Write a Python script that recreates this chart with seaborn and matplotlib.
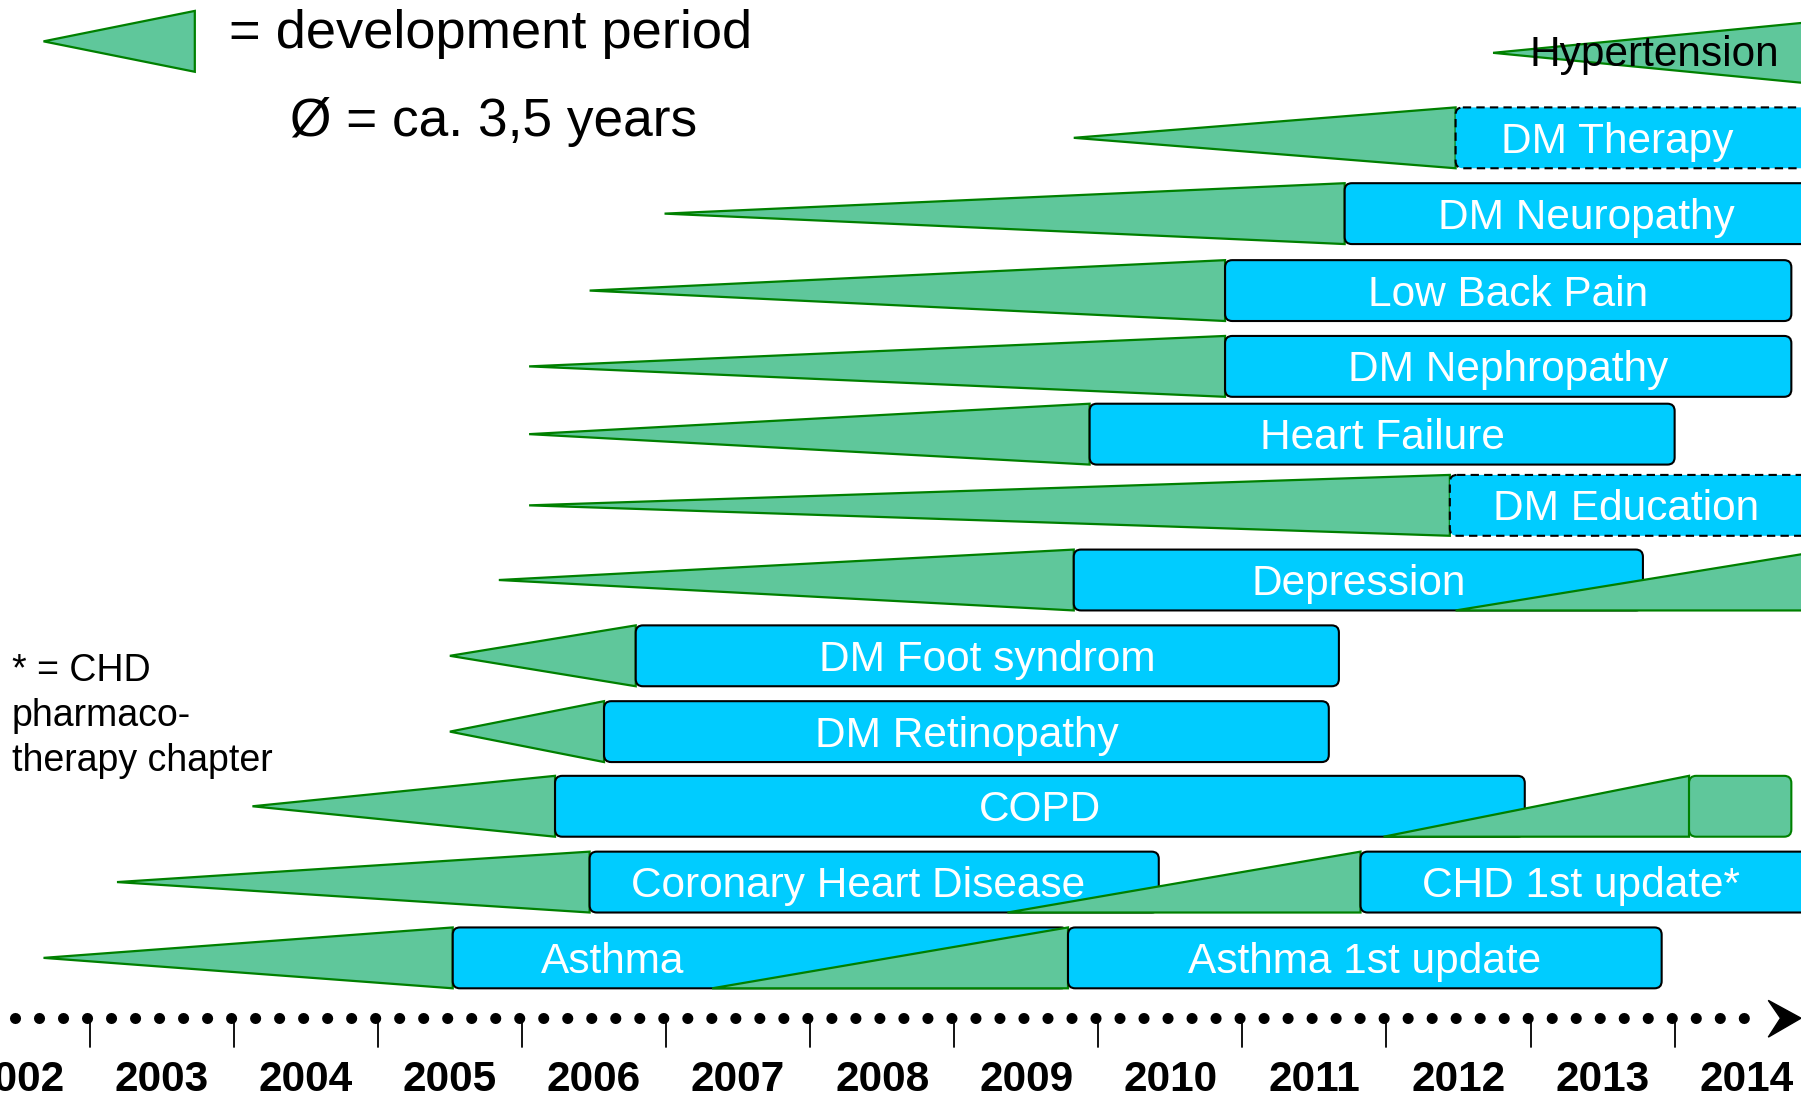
import matplotlib
matplotlib.use('Agg')
import matplotlib.pyplot as plt
from matplotlib.patches import Polygon, FancyBboxPatch
import seaborn as sns

topics = ['Hypertension', 'DM Therapy', 'DM Neuropathy', 'Low Back Pain',
          'DM Nephropathy', 'Heart Failure', 'DM Education', 'Depression',
          'DM Foot syndrom', 'DM Retinopathy', 'COPD',
          'Coronary Heart Disease', 'Asthma']
dev_start = [2012.74, 2009.83, 2006.99, 2006.47, 2006.05, 2006.05, 2006.05,
             2005.84, 2005.50, 2005.50, 2004.13, 2003.19, 2002.68]
published = [2014.92, 2012.48, 2011.71, 2010.88, 2010.88, 2009.94, 2012.44,
             2009.83, 2006.79, 2006.57, 2006.23, 2006.47, 2005.52]
valid_until = [None, 2015.0, 2015.0, 2014.81, 2014.81, 2014.00, 2015.0,
               2013.78, 2011.67, 2011.60, 2012.96, 2010.42, 2009.79]
in_progress = ['DM Therapy', 'DM Education']

# updates of existing guidelines
upd_topic = ['Depression', 'COPD', 'Coronary Heart Disease', 'Asthma']
upd_label = ['', '', 'CHD 1st update*', 'Asthma 1st update']
upd_dev_start = [2012.48, 2011.98, 2009.37, 2007.32]
upd_published = [2015.08, 2014.10, 2011.82, 2009.79]
upd_until = [None, 2014.81, 2015.0, 2013.91]
upd_drafting = ['COPD']   # green box = update still being worked on

years = list(range(2002, 2015))

# ---- layout (vertical units, top = 0) ----
row_y = dict(zip(topics, [46, 120, 186, 253, 319, 378, 440, 505, 571, 637, 702, 768, 834]))
HALF = 26.5
label_x = {'Hypertension': 2013.86, 'DM Therapy': 2013.60, 'DM Neuropathy': 2013.39,
           'DM Education': 2013.66, 'Coronary Heart Disease': 2008.33,
           'Asthma': 2006.63, 'CHD 1st update*': 2013.35}
AXIS_Y = 886.5
ASPECT = 125.3   # y units per year, keeps the box corners round

GREEN = '#5FC79B'
DARKGREEN = '#008000'
CYAN = '#00CCFF'

sns.set_theme(style='white')
plt.rcParams['font.family'] = ['Liberation Sans', 'DejaVu Sans']
plt.rcParams['text.color'] = 'black'

fig = plt.figure(figsize=(18.01, 10.98), dpi=100)
ax = fig.add_axes([0, 0, 1, 1])
ax.set_xlim(2002.378, 2014.877)
ax.set_ylim(956, 0)
ax.axis('off')


def dev_wedge(x0, x1, yc, z):
    ax.add_patch(Polygon([(x0, yc), (x1, yc - HALF), (x1, yc + HALF)], closed=True,
                         facecolor=GREEN, edgecolor=DARKGREEN, lw=1.6, zorder=z))


def update_wedge(x0, x1, yc, z):
    ax.add_patch(Polygon([(x0, yc + HALF), (x1, yc - HALF), (x1, yc + HALF)], closed=True,
                         facecolor=GREEN, edgecolor=DARKGREEN, lw=1.6, zorder=z))


def box(x0, x1, yc, z, dashed=False, fc=CYAN, ec='black'):
    ax.add_patch(FancyBboxPatch((x0, yc - HALF), x1 - x0, 2 * HALF,
                                boxstyle='round,pad=0,rounding_size=0.05',
                                mutation_aspect=ASPECT, facecolor=fc, edgecolor=ec,
                                lw=1.5, ls=(0, (4, 2.5)) if dashed else '-', zorder=z))


def label(text, x, yc, z, color='white'):
    ax.text(x, yc + 13, text, ha='center', va='baseline', fontsize=30.5,
            color=color, zorder=z)


z = 2
for name, x0, x1, x2 in zip(topics, dev_start, published, valid_until):
    yc = row_y[name]
    dev_wedge(x0, x1, yc, z)
    if x2 is None:
        label(name, label_x.get(name, x1), yc - 1.5, z + 1, color='black')
    else:
        box(x1, x2, yc, z + 1, dashed=name in in_progress)
        label(name, label_x.get(name, (x1 + x2) / 2), yc, z + 2)
    z += 3

for name, text, x0, x1, x2 in zip(upd_topic, upd_label, upd_dev_start, upd_published, upd_until):
    yc = row_y[name]
    update_wedge(x0, x1, yc, z)
    if x2 is not None:
        if name in upd_drafting:
            box(x1, x2, yc, z + 1, fc=GREEN, ec=DARKGREEN)
        else:
            box(x1, x2, yc, z + 1)
    if text:
        label(text, label_x.get(text, (x1 + x2) / 2), yc, z + 2)
    z += 3

# legend
dev_wedge(2002.68, 2003.73, 36, z)
ax.text(2003.97, 42, '= development period', fontsize=39.2, va='baseline', ha='left',
        color='black')
ax.text(2004.39, 118, 'Ø = ca. 3,5 years', fontsize=38.3, va='baseline', ha='left',
        color='black')

for txt, yb in zip(['* = CHD', 'pharmaco-', 'therapy chapter'], [593, 632, 671]):
    ax.text(2002.46, yb, txt, fontsize=27, va='baseline', ha='left', color='black')

# time axis: dotted line with arrow head
ax.plot([2002.482, 2014.64], [AXIS_Y, AXIS_Y], color='black', lw=8,
        ls=(0, (0.001, 2.16)), dash_capstyle='round', solid_capstyle='round')
ax.add_patch(Polygon([(2014.877, AXIS_Y), (2014.65, 871), (2014.735, AXIS_Y),
                      (2014.65, 903)], closed=True, facecolor='black',
                     edgecolor='black', lw=1, clip_on=False))
for yr in years[1:]:
    ax.plot([yr, yr], [AXIS_Y, 912], color='black', lw=1.3)
for yr in years:
    ax.text(yr + 0.5, 940, str(yr), ha='center', va='center', fontsize=30.5,
            fontweight='bold', color='black')

fig.savefig('out.png', dpi=100, facecolor='white')
